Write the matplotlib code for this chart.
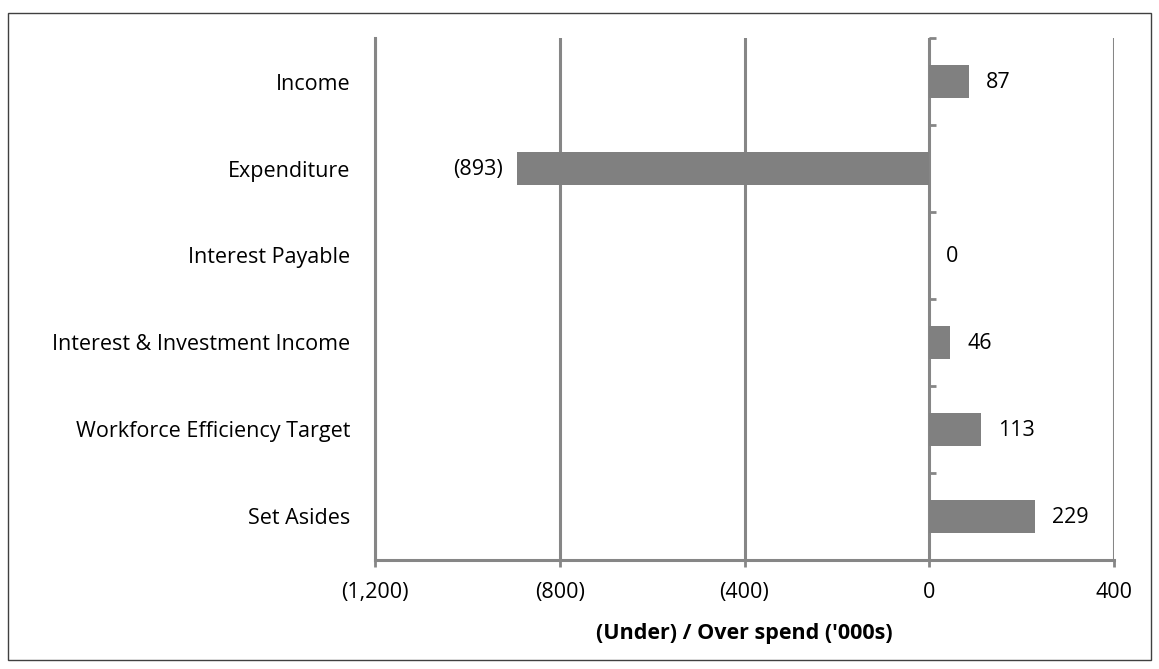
import numpy as np
import matplotlib
matplotlib.use('Agg')
from matplotlib import pyplot as plt
from matplotlib.patches import Rectangle

# 数据
categories = ['Income', 'Expenditure', 'Interest Payable',
              'Interest & Investment Income', 'Workforce Efficiency Target', 'Set Asides']
values = [87, -893, 0, 46, 113, 229]
xticks = [-1200, -800, -400, 0, 400]
xtick_labels = ['(1,200)', '(800)', '(400)', '0', '400']

plt.rcParams['font.family'] = ['Open Sans', 'DejaVu Sans']
grey = '#868686'
fs = 15.5

fig = plt.figure(figsize=(11.59, 6.69), dpi=100)
ax = fig.add_axes([375 / 1159, 1 - 560 / 669, (1114 - 375) / 1159, (560 - 38) / 669])

y = np.arange(len(categories))
ax.barh(y, values, height=0.39, color='#808080', zorder=3)
ax.set_xlim(-1200, 400)
ax.set_ylim(len(categories) - 0.5, -0.5)

# 数值标签
for yi, v in zip(y, values):
    lab = '(%d)' % -v if v < 0 else '%d' % v
    if v < 0:
        ax.annotate(lab, (v, yi), xytext=(-10, -1), textcoords='offset points',
                    ha='right', va='center', fontsize=fs)
    else:
        ax.annotate(lab, (v, yi), xytext=(12, -1), textcoords='offset points',
                    ha='left', va='center', fontsize=fs)

ax.set_yticks(y)
ax.set_yticklabels(categories, fontsize=fs)
ax.tick_params(axis='y', length=0, pad=18)
ax.set_xticks(xticks)
ax.set_xticklabels(xtick_labels, fontsize=fs)
ax.tick_params(axis='x', length=5, width=2, color=grey, pad=11)
ax.grid(True, axis='x', color=grey, linewidth=2.2, zorder=1)
for s in ['top', 'right']:
    ax.spines[s].set_visible(False)
for s in ['left', 'bottom']:
    ax.spines[s].set_color(grey)
    ax.spines[s].set_linewidth(2.2)
ax.set_xlabel("(Under) / Over spend ('000s)", fontsize=fs, fontweight='bold', labelpad=14)

# 零轴和分类刻度
sec = ax.secondary_yaxis(1200 / 1600)
sec.set_yticks(np.arange(len(categories) + 1) - 0.5)
sec.set_yticklabels([])
sec.tick_params(axis='y', direction='out', length=5, width=2, color=grey)
sec.spines['left'].set_color(grey)
sec.spines['left'].set_linewidth(2.2)
sec.spines['left'].set_zorder(4)

# 外框
fig.patches.append(Rectangle((8 / 1159, 1 - 660 / 669), (1151 - 8) / 1159, (660 - 13) / 669,
                             transform=fig.transFigure, fill=False,
                             edgecolor='#404040', linewidth=1))

plt.savefig('out.png', dpi=100)
